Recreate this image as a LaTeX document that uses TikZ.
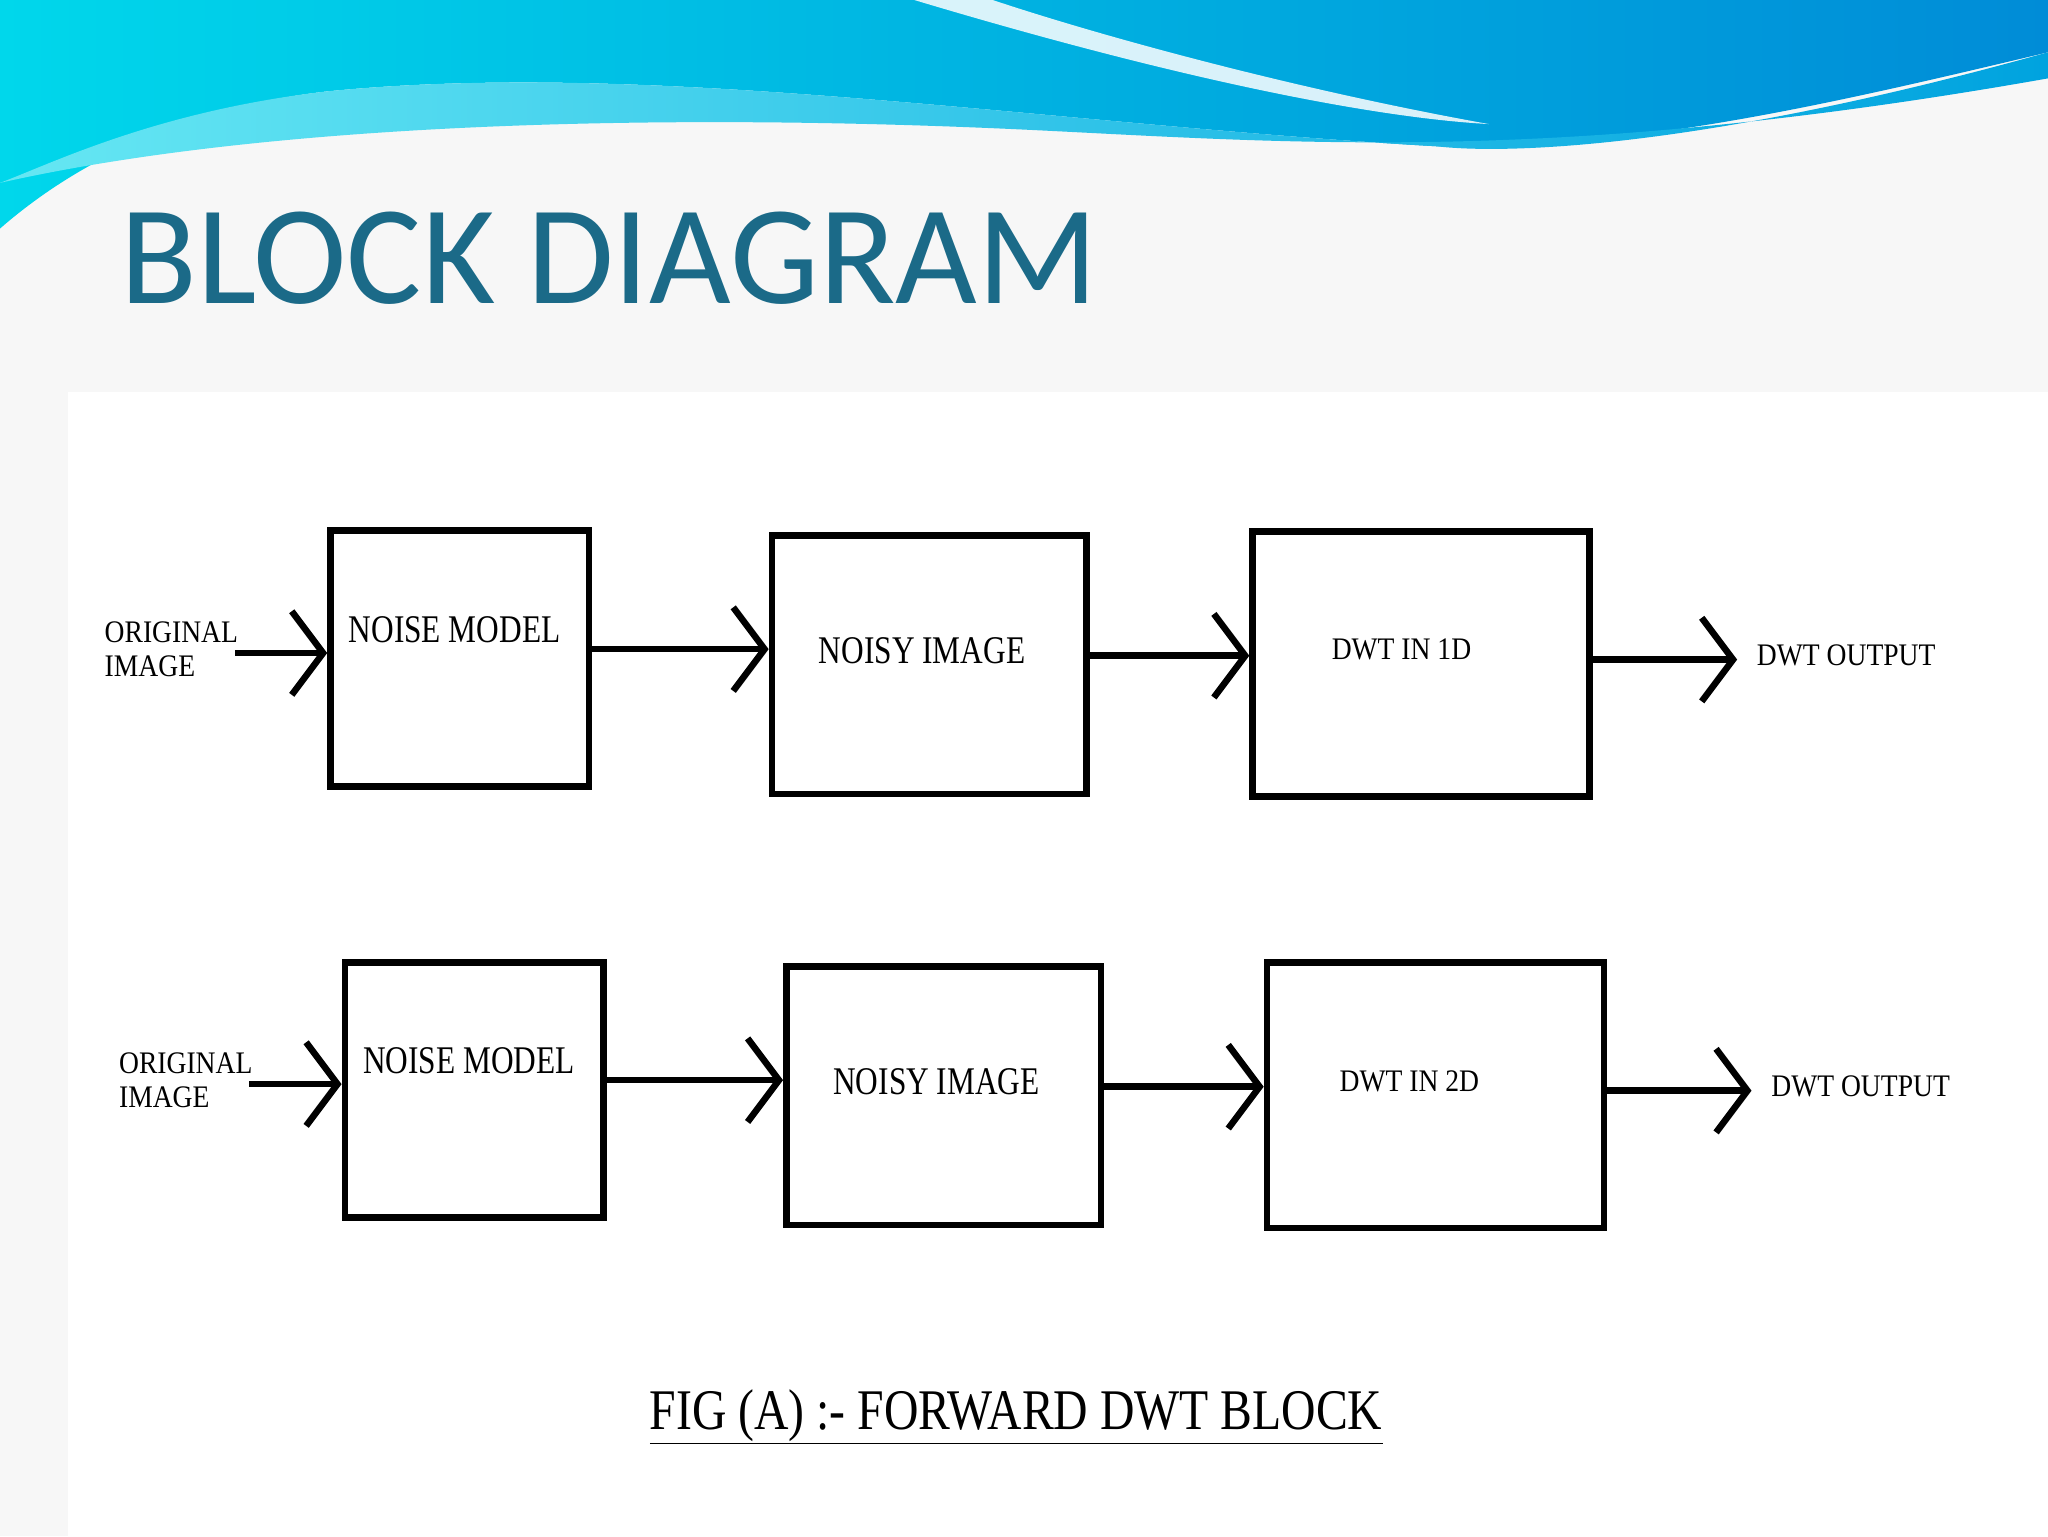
\documentclass[tikz,border=0pt]{standalone}
\usepackage{fontspec}
\setmainfont{Liberation Serif}
\newfontfamily\titlefont{Carlito}
\usetikzlibrary{arrows.meta}
\definecolor{titleblue}{HTML}{1B6A88}
\definecolor{hl}{RGB}{0,215,235}
\definecolor{hr}{RGB}{0,140,215}
\begin{document}
\begin{tikzpicture}[x=1pt,y=-1pt,
  blk/.style={draw=black,line width=5pt,fill=white},
  conn/.style={line width=5pt,-{Straight Barb[length=24pt,width=64pt,line width=5pt]}},
  lbl/.style={font=\fontsize{24}{26}\selectfont,align=left,inner sep=0pt,xscale=0.88},
  big/.style={font=\fontsize{30}{32}\selectfont,xscale=0.8,inner sep=0pt}]
\useasboundingbox (0,0) rectangle (1568,1176);
\fill[gray!6] (0,0) rectangle (1568,1176);
% header waves
\shade[left color=hl,right color=hr] (0,0) -- (1568,0) -- (1568,40)
  .. controls (1400,80) and (1250,115) .. (1100,112)
  .. controls (800,95) and (500,45) .. (250,70)
  .. controls (120,85) and (40,140) .. (0,175) -- cycle;
\shade[left color=hl!60!white,right color=hr!80!cyan] (0,140) .. controls (200,95) and (500,85) .. (800,100)
  .. controls (1000,110) and (1200,125) .. (1568,60) -- (1568,40)
  .. controls (1300,115) and (1150,118) .. (1100,112)
  .. controls (800,95) and (500,45) .. (250,70) .. controls (120,85) and (40,125) .. (0,140) -- cycle;
\fill[white,opacity=0.85] (700,0) .. controls (900,60) and (1050,90) .. (1140,95) .. controls (1000,70) and (850,30) .. (760,0) -- cycle;
\node[anchor=west,text=titleblue,inner sep=0pt,font=\titlefont\fontsize{108}{112}\selectfont] (title) at (92,198) {BLOCK DIAGRAM};
\fill[white] (52,300) rectangle (1568,1176);
% row 1
\node[blk,minimum width=198pt,minimum height=196pt] (a1) at (352,504) {};
\node[blk,minimum width=241pt,minimum height=198pt] (b1) at (711.5,509) {};
\node[blk,minimum width=258pt,minimum height=203pt] (c1) at (1088,508.5) {};
\node[lbl,anchor=west] (in1) at (80,497) {ORIGINAL\\IMAGE};
\node[big] (t1) at (348,482) {NOISE MODEL};
\node[big] (t2) at (706,498) {NOISY IMAGE};
\node[lbl] (t3) at (1073,497) {DWT IN 1D};
\node[lbl,anchor=west] (o1) at (1345,502) {DWT OUTPUT};
\coordinate (s1) at (180,500);
\draw[conn] (s1) -- (a1.west|-s1);
\draw[conn] (a1.east|-0,497) -- (b1.west|-0,497);
\draw[conn] (b1.east|-0,502) -- (c1.west|-0,502);
\draw[conn] (c1.east|-0,505) -- (1330,505) coordinate (e1);
% row 2
\node[blk,minimum width=198pt,minimum height=195pt] (a2) at (363,834.5) {};
\node[blk,minimum width=241pt,minimum height=198pt] (b2) at (722.5,839) {};
\node[blk,minimum width=258pt,minimum height=203pt] (c2) at (1099,838.5) {};
\node[lbl,anchor=west] (in2) at (91,827) {ORIGINAL\\IMAGE};
\node[big] (u1) at (359,812) {NOISE MODEL};
\node[big] (u2) at (717,828) {NOISY IMAGE};
\node[lbl] (u3) at (1079,828) {DWT IN 2D};
\node[lbl,anchor=west] (o2) at (1356,832) {DWT OUTPUT};
\coordinate (s2) at (191,830);
\draw[conn] (s2) -- (a2.west|-s2);
\draw[conn] (a2.east|-0,827) -- (b2.west|-0,827);
\draw[conn] (b2.east|-0,832) -- (c2.west|-0,832);
\draw[conn] (c2.east|-0,835) -- (1341,835) coordinate (e2);
\node[font=\fontsize{44}{46}\selectfont,xscale=0.83] (cap) at (778,1085) {\underline{FIG (A) :- FORWARD DWT BLOCK}};
\end{tikzpicture}
\end{document}
